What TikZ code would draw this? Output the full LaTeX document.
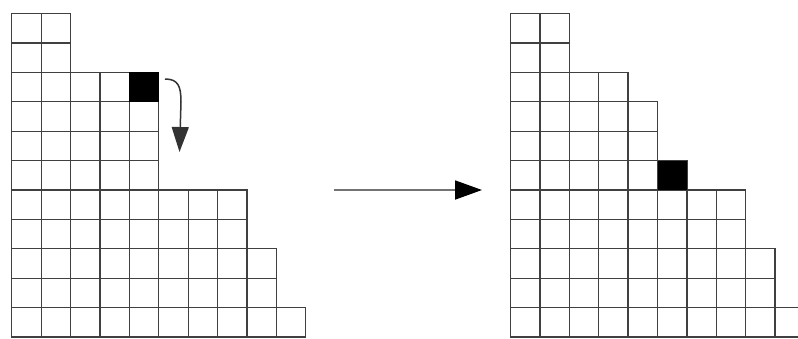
\documentclass[tikz,border=0pt]{standalone}
\usetikzlibrary{arrows.meta}
\begin{document}
\begin{tikzpicture}[x=1pt,y=-1pt,
  cellbox/.style={draw=black!75,line width=1.3pt},
  blackcell/.style={fill=black},
  arrowline/.style={draw=black!55,line width=1.8pt}]
\clip (0,0) rectangle (798,338);
\fill[white] (0,0) rectangle (798,338);
\def\cs{29.4}
% left grid
\foreach \h [count=\i from 0] in {11,11,9,9,9,5,5,5,3,1} {
  \foreach \r in {1,...,\h} {
    \draw[cellbox] ({11.8+\i*\cs},{337-\r*\cs}) rectangle ++(\cs,\cs);
  }
}
\fill[blackcell] ({11.8+4*\cs},{337-9*\cs}) rectangle ++(\cs,\cs);
% right grid
\foreach \h [count=\i from 0] in {11,11,9,9,8,6,5,5,3,1} {
  \foreach \r in {1,...,\h} {
    \draw[cellbox] ({510.5+\i*\cs},{337-\r*\cs}) rectangle ++(\cs,\cs);
  }
}
\fill[blackcell] ({510.5+5*\cs},{337-6*\cs}) rectangle ++(\cs,\cs);
% arrows
\coordinate (cstart) at (165,79);
\coordinate (cend) at (179.5,152);
\draw[arrowline,draw=black!80,line width=1.5pt,-{Triangle[length=25pt,width=17pt]}]
  (cstart) .. controls (178,79) and (181,86) .. (181,102) -- (cend);
\coordinate (sstart) at (334,190);
\coordinate (send) at (482,190);
\draw[arrowline,-{Triangle[length=27pt,width=19pt,color=black]}] (sstart) -- (send);
\end{tikzpicture}
\end{document}
